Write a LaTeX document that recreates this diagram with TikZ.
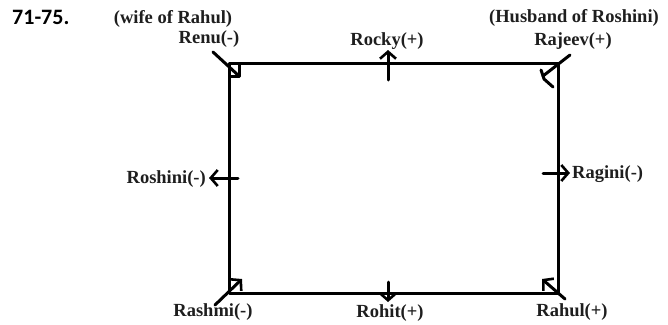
\documentclass[tikz,border=0pt]{standalone}
\usepackage{fontspec}
\setmainfont{Liberation Serif}
\newfontfamily\numfont{Carlito}
\usetikzlibrary{arrows.meta}
\definecolor{ink}{HTML}{1E1E1E}
\tikzset{
  edge/.style={line width=3pt, line cap=round, line join=round, draw=black},
  arr/.style={edge, -{Straight Barb[length=7pt,width=16pt,line width=2.6pt]}},
  lbl/.style={inner sep=0pt, text=ink, font=\fontsize{18.5}{21}\selectfont\bfseries},
  title/.style={inner sep=0pt, font=\numfont\fontsize{22}{24}\selectfont\bfseries, text=black}
}
\begin{document}
\begin{tikzpicture}[x=1pt,y=-1pt]
\useasboundingbox (0,0) rectangle (668,324);
% corners
\coordinate (TL) at (229,63);
\coordinate (TR) at (558,63);
\coordinate (BR) at (558,293);
\coordinate (BL) at (229,293);
\draw[edge] (TL) -- (TR) -- (BR) -- (BL) -- cycle;

% title
\node[title, anchor=west] (ttl) at (12,17) {71-75.};

% labels
\node[lbl] (wife) at (173,19) {(wife of Rahul)};
\node[lbl] (renu) at (209,39) {Renu(-)};
\node[lbl] (rocky) at (387,41) {Rocky(+)};
\node[lbl] (husb) at (574,18) {(Husband of Roshini)};
\node[lbl] (rajeev) at (573,41) {Rajeev(+)};
\node[lbl, anchor=east] (roshini) at (206,179) {Roshini(-)};
\node[lbl, anchor=west] (ragini) at (572,174) {Ragini(-)};
\node[lbl] (rashmi) at (213,312) {Rashmi(-)};
\node[lbl] (rohit) at (390,313) {Rohit(+)};
\node[lbl] (rahul) at (572,312) {Rahul(+)};

% Renu: line into corner with small square
\coordinate (renuA) at (213,52);
\coordinate (renuB) at (239,76);
\draw[edge] (renuA) -- (renuB);
\draw[edge] (TL) rectangle (renuB);

% Rocky: up arrow
\coordinate (rockyA) at (388,80);
\coordinate (rockyB) at (388,50);
\draw[arr] (rockyA) -- (rockyB);

% Rajeev: diagonal with angle mark
\coordinate (rajA) at (570,55);
\coordinate (rajB) at (543,76);
\coordinate (rajC) at (541,70);
\coordinate (rajD) at (544,79);
\coordinate (rajE) at (553,87);
\draw[edge] (rajA) -- (rajB);
\draw[edge] (rajC) -- (rajD) -- (rajE);

% Roshini: left arrow
\coordinate (roshA) at (238,178);
\coordinate (roshB) at (209,178);
\draw[arr] (roshA) -- (roshB);

% Ragini: right arrow
\coordinate (ragA) at (543,173);
\coordinate (ragB) at (570,173);
\draw[arr] (ragA) -- (ragB);

% Rashmi: diagonal arrow up-right
\coordinate (rashA) at (215,305);
\coordinate (rashB) at (242,279);
\draw[arr] (rashA) -- (rashB);

% Rohit: down arrow
\coordinate (rohA) at (388,282);
\coordinate (rohB) at (388,302);
\draw[arr] (rohA) -- (rohB);

% Rahul: diagonal arrow up-left
\coordinate (rahA) at (565,299);
\coordinate (rahB) at (542,279);
\draw[arr] (rahA) -- (rahB);
\end{tikzpicture}
\end{document}
